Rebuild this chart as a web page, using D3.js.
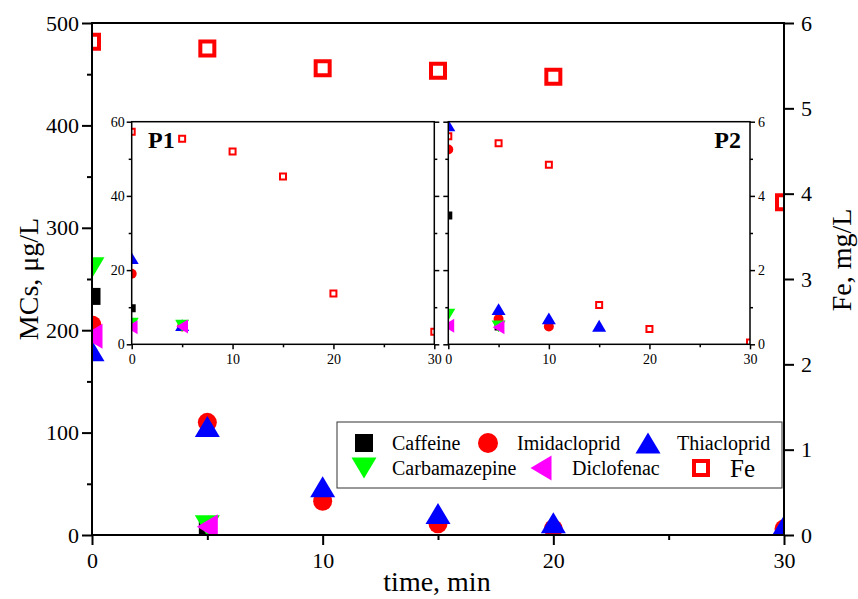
<!DOCTYPE html>
<html><head><meta charset="utf-8">
<script src="https://cdn.jsdelivr.net/npm/d3@7"></script>
<style>body{margin:0;background:#fff}svg{display:block}</style>
</head><body>
<svg id="c" width="858" height="599" font-family="'Liberation Serif', 'Times New Roman', serif"></svg>
<script>
// ---------- data ----------
const times = [0, 5, 10, 15, 20, 30];
const seriesNames = ["Caffeine", "Imidacloprid", "Thiacloprid", "Carbamazepine", "Diclofenac", "Fe"];
// main chart (MCs in µg/L, Fe in mg/L)
const mainCaffeine      = [233, 7, null, null, null, null];
const mainImidacloprid  = [205, 110, 33, 11, 6, 6];
const mainThiacloprid   = [180, 106, 47, 21, 12, 9];
const mainCarbamazepine = [261, 9, null, null, null, null];
const mainDiclofenac    = [194, 8, null, null, null, null];
const mainFe            = [5.78, 5.70, 5.47, 5.44, 5.37, 3.90];
// inset P1
const p1Caffeine      = [9.7, 5.0, null, null, null, null];
const p1Imidacloprid  = [19.0, 4.8, null, null, null, null];
const p1Thiacloprid   = [23.2, 5.2, null, null, null, null];
const p1Carbamazepine = [5.6, 5.0, null, null, null, null];
const p1Diclofenac    = [4.6, 4.8, null, null, null, null];
const p1Fe            = [5.73, 5.54, 5.20, 4.52, 1.37, 0.34];
// inset P2
const p2Caffeine      = [34.7, 4.8, null, null, null, null];
const p2Imidacloprid  = [52.5, 6.8, 4.8, null, null, null];
const p2Thiacloprid   = [59.0, 9.5, 7.0, 5.0, null, null];
const p2Carbamazepine = [8.0, 4.8, null, null, null, null];
const p2Diclofenac    = [5.0, 4.6, null, null, null, null];
const p2Fe            = [5.61, 5.42, 4.84, 1.06, 0.41, 0.05];

const xTicks = [0, 10, 20, 30], xMinor = [5, 15, 25];
const mainYTicks = [0, 100, 200, 300, 400, 500], mainYMinor = [50, 150, 250, 350, 450];
const mainFeTicks = [0, 1, 2, 3, 4, 5, 6];
const insetYTicks = [0, 20, 40, 60], insetYMinor = [10, 30, 50];
const insetFeTicks = [0, 2, 4, 6], insetFeMinor = [1, 3, 5];

// ---------- styles ----------
const FONT = "'Liberation Serif', 'Times New Roman', serif";
const colors = ["#000000", "#ff0000", "#0000ff", "#00ff00", "#ff00ff", "#ff0000"];
const shapes = ["square", "circle", "up", "down", "left", "open"];

function symType(kind) {
  return {
    draw(ctx, s) {
      const h = s / 2;
      if (kind === "square" || kind === "open") { ctx.rect(-h, -h, s, s); }
      else if (kind === "circle") { ctx.moveTo(h, 0); ctx.arc(0, 0, h, 0, 2 * Math.PI); }
      else if (kind === "up") { const t = s * 0.84 / 2; ctx.moveTo(0, -t); ctx.lineTo(h, t); ctx.lineTo(-h, t); ctx.closePath(); }
      else if (kind === "down") { const t = s * 0.84 / 2; ctx.moveTo(0, t); ctx.lineTo(h, -t); ctx.lineTo(-h, -t); ctx.closePath(); }
      else if (kind === "left") { const t = s * 0.84 / 2; ctx.moveTo(-t, 0); ctx.lineTo(t, -h); ctx.lineTo(t, h); ctx.closePath(); }
    }
  };
}
function marker(sel, i, size, openStroke) {
  const p = d3.symbol().type(symType(shapes[i])).size(shapes[i] === "open" ? size - openStroke : size);
  sel.attr("d", p)
    .attr("fill", shapes[i] === "open" ? "#fff" : colors[i])
    .attr("stroke", shapes[i] === "open" ? colors[i] : "none")
    .attr("stroke-width", shapes[i] === "open" ? openStroke : 0);
}

const svg = d3.select("#c");
svg.append("rect").attr("width", 858).attr("height", 599).attr("fill", "#fff");
const defs = svg.append("defs");

function styleAxis(g, w, fs) {
  g.attr("font-family", FONT).attr("font-size", fs);
  g.select(".domain").remove();
  g.selectAll("line").attr("stroke", "#000").attr("stroke-width", w);
  g.selectAll("text").style("font-family", FONT).style("font-size", fs + "px").attr("fill", "#000");
}

function panel(o) {
  const x = d3.scaleLinear().domain([0, 30]).range([o.x0, o.x1]);
  const y = d3.scaleLinear().domain(o.yDom).range([o.y1, o.y0]);
  const yFe = d3.scaleLinear().domain([0, 6]).range([o.y1, o.y0]);
  const g = svg.append("g");
  g.append("rect").attr("x", o.x0).attr("y", o.y0).attr("width", o.x1 - o.x0).attr("height", o.y1 - o.y0).attr("fill", "#fff");
  const cid = "clip" + o.id;
  defs.append("clipPath").attr("id", cid).append("rect")
    .attr("x", o.x0).attr("y", o.y0).attr("width", o.x1 - o.x0).attr("height", o.y1 - o.y0);
  const pg = g.append("g").attr("clip-path", `url(#${cid})`);
  o.series.forEach((vals, i) => {
    const sc = i === 5 ? yFe : y;
    pg.append("g").selectAll("path")
      .data(times.map((t, k) => ({ t, v: vals[k] })).filter(d => d.v != null))
      .join("path")
      .attr("transform", d => `translate(${x(d.t)},${sc(d.v)})`)
      .call(s => marker(s, i, o.msize[i], o.openStroke));
  });
  const lw = o.lw;
  const bx = g.append("g").attr("transform", `translate(0,${o.y1})`)
    .call(d3.axisBottom(x).tickValues(xTicks).tickFormat(d3.format("d")).tickSize(o.tMaj).tickPadding(o.padB));
  styleAxis(bx, lw, o.fs);
  const bxm = g.append("g").attr("transform", `translate(0,${o.y1})`)
    .call(d3.axisBottom(x).tickValues(xMinor).tickFormat("").tickSize(o.tMin));
  styleAxis(bxm, lw, o.fs);
  const ly = g.append("g").attr("transform", `translate(${o.x0},0)`)
    .call(d3.axisLeft(o.leftFe ? yFe : y).tickValues(o.leftFe ? insetFeTicks : o.yTicks)
      .tickFormat(o.leftLabels ? d3.format("d") : "").tickSize(o.tMaj).tickPadding(o.padL));
  styleAxis(ly, lw, o.fs);
  const lym = g.append("g").attr("transform", `translate(${o.x0},0)`)
    .call(d3.axisLeft(o.leftFe ? yFe : y).tickValues(o.leftFe ? insetFeMinor : o.yMinor).tickFormat("").tickSize(o.tMin));
  styleAxis(lym, lw, o.fs);
  if (o.right) {
    const rs = o.right.scale === "fe" ? yFe : y;
    const ry = g.append("g").attr("transform", `translate(${o.x1},0)`)
      .call(d3.axisRight(rs).tickValues(o.right.ticks)
        .tickFormat(o.right.labels ? d3.format("d") : "").tickSize(o.right.tMaj).tickPadding(o.right.pad));
    styleAxis(ry, lw, o.fs);
    if (o.right.minor) {
      const rym = g.append("g").attr("transform", `translate(${o.x1},0)`)
        .call(d3.axisRight(rs).tickValues(o.right.minor).tickFormat("").tickSize(o.tMin));
      styleAxis(rym, lw, o.fs);
    }
  }
  g.append("rect").attr("x", o.x0).attr("y", o.y0).attr("width", o.x1 - o.x0).attr("height", o.y1 - o.y0)
    .attr("fill", "none").attr("stroke", "#000").attr("stroke-width", lw);
  if (o.tag) {
    g.append("text").attr("x", o.tag.x).attr("y", o.tag.y).attr("text-anchor", o.tag.anchor)
      .style("font-family", FONT).style("font-size", "24px").style("font-weight", "bold").text(o.tag.text);
  }
  return { x, y, yFe };
}

// main chart
panel({
  id: "main", x0: 92, x1: 784, y0: 23, y1: 535, yDom: [0, 500],
  series: [mainCaffeine, mainImidacloprid, mainThiacloprid, mainCarbamazepine, mainDiclofenac, mainFe],
  msize: [17, 19, 25, 25, 25, 18], openStroke: 4,
  lw: 2, fs: 22, tMaj: 10, tMin: 5, padB: 7, padL: 3,
  yTicks: mainYTicks, yMinor: mainYMinor, leftLabels: true,
  right: { scale: "fe", ticks: mainFeTicks, labels: true, tMaj: 10, pad: 7 }
});

// inset P1
panel({
  id: "p1", x0: 131.7, x1: 434.3, y0: 121.7, y1: 344.3, yDom: [0, 60],
  series: [p1Caffeine, p1Imidacloprid, p1Thiacloprid, p1Carbamazepine, p1Diclofenac, p1Fe],
  msize: [8, 10, 14, 14, 14, 8], openStroke: 2,
  lw: 1.5, fs: 14, tMaj: 5, tMin: 3, padB: 5, padL: 2,
  yTicks: insetYTicks, yMinor: insetYMinor, leftLabels: true,
  right: { scale: "y", ticks: insetYTicks, minor: insetYMinor, labels: false, tMaj: 5, pad: 2 },
  tag: { text: "P1", x: 148, y: 148, anchor: "start" }
});

// inset P2
panel({
  id: "p2", x0: 448.3, x1: 750, y0: 121.7, y1: 344.3, yDom: [0, 60],
  series: [p2Caffeine, p2Imidacloprid, p2Thiacloprid, p2Carbamazepine, p2Diclofenac, p2Fe],
  msize: [8, 10, 14, 14, 14, 8], openStroke: 2,
  lw: 1.5, fs: 14, tMaj: 5, tMin: 3, padB: 5, padL: 2,
  yTicks: insetYTicks, yMinor: insetYMinor, leftLabels: false, leftFe: true,
  right: { scale: "fe", ticks: insetFeTicks, minor: insetFeMinor, labels: true, tMaj: 5, pad: 3 },
  tag: { text: "P2", x: 741, y: 148, anchor: "end" }
});

// axis titles
const title = (t) => t.style("font-family", FONT).style("font-size", "28px").attr("fill", "#000");
svg.append("text").attr("transform", "translate(38,279) rotate(-90)").attr("text-anchor", "middle")
  .call(title).text("MCs, μg/L");
svg.append("text").attr("transform", "translate(851,260) rotate(-90)").attr("text-anchor", "middle")
  .call(title).text("Fe, mg/L");
svg.append("text").attr("x", 437).attr("y", 591).attr("text-anchor", "middle")
  .call(title).text("time, min");

// legend
const lg = svg.append("g");
lg.append("rect").attr("x", 337).attr("y", 422).attr("width", 445).attr("height", 66)
  .attr("fill", "#fff").attr("stroke", "#333").attr("stroke-width", 1);
const legCols = [364, 488, 648, 364, 541, 701];
const legRows = [443, 443, 443, 468, 468, 468];
const legText = [392, 517, 677, 392, 572, 730];
const legSize = [18, 20, 25, 25, 25, 18];
seriesNames.forEach((n, i) => {
  lg.append("path").attr("transform", `translate(${legCols[i]},${legRows[i]})`).call(s => marker(s, i, legSize[i], 4));
  lg.append("text").attr("x", legText[i]).attr("y", legRows[i]).attr("dy", "0.35em")
    .style("font-family", FONT).style("font-size", i === 5 ? "25px" : "20px").text(n);
});
</script>
</body></html>
